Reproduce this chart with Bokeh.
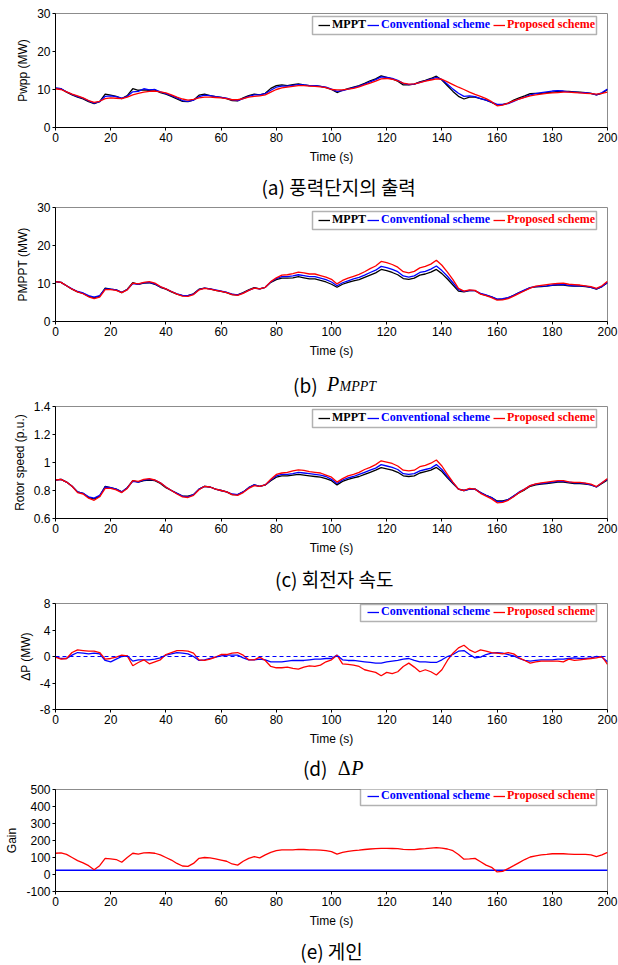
from bokeh.plotting import figure
from bokeh.layouts import column
from bokeh.models import (Range1d, FixedTicker, Legend, LegendItem, BoxAnnotation,
                          Span, Label, CustomJSTickFormatter)
from bokeh.embed import file_html
from bokeh.resources import INLINE

# ---------------- data ----------------
time_s = list(range(0, 201, 2))

pwpp_mppt = [10.3,10.2,9.3,8.6,8.0,7.5,6.8,6.3,6.8,8.8,
             8.5,8.2,7.6,8.4,10.2,9.8,9.9,9.8,9.9,9.2,
             8.8,8.2,7.5,6.9,6.8,7.2,8.5,8.8,8.4,8.1,
             7.9,7.6,7.1,7.0,7.8,8.4,8.8,8.6,9.0,10.3,
             11.0,11.2,11.0,11.3,11.5,11.2,11.0,11.0,10.8,10.5,
             10.0,9.2,9.8,10.2,10.6,11.0,11.6,12.3,12.8,13.6,
             13.2,12.8,12.2,11.2,11.2,11.4,12.0,12.4,12.9,13.5,
             12.5,11.0,9.5,8.2,7.5,8.0,8.0,7.6,7.2,6.6,
             5.9,6.0,6.4,7.2,7.8,8.3,8.9,9.0,9.0,9.2,
             9.3,9.5,9.5,9.5,9.4,9.3,9.2,9.0,8.6,9.0,
             10.0]
pwpp_conv = [10.4,10.2,9.4,8.7,8.1,7.7,7.0,6.4,6.8,8.2,
             8.3,8.1,7.7,8.2,9.4,9.5,10.2,9.9,10.0,9.4,
             8.9,8.4,7.8,7.1,6.9,7.2,8.1,8.5,8.4,8.1,
             7.9,7.7,7.3,7.1,7.6,8.2,8.6,8.6,8.9,9.8,
             10.6,10.9,10.9,11.1,11.3,11.2,11.0,11.0,10.8,10.6,
             10.1,9.5,9.7,10.1,10.5,10.9,11.4,12.0,12.6,13.3,
             13.2,12.9,12.4,11.6,11.3,11.4,11.9,12.3,12.7,13.2,
             12.6,11.4,10.1,9.0,8.2,8.3,8.1,7.6,7.2,6.7,
             6.1,6.1,6.3,6.9,7.5,8.0,8.6,8.9,9.2,9.4,
             9.6,9.7,9.6,9.4,9.3,9.2,9.2,9.0,8.6,9.2,
             10.1]
pwpp_prop = [10.2,10.0,9.4,8.8,8.3,7.8,7.1,6.6,6.9,7.6,
             7.8,7.7,7.6,8.0,8.6,9.0,9.3,9.5,9.6,9.4,
             9.1,8.6,8.0,7.5,7.2,7.4,7.8,8.0,8.0,7.9,
             7.8,7.6,7.3,7.3,7.6,8.0,8.2,8.3,8.6,9.3,
             10.0,10.4,10.6,10.8,11.0,11.0,10.9,10.8,10.7,10.5,
             10.0,9.9,9.9,10.1,10.3,10.7,11.2,11.7,12.2,12.8,
             12.9,12.7,12.3,11.7,11.4,11.5,11.8,12.2,12.5,12.8,
             12.7,12.0,11.3,10.6,10.0,9.3,8.7,8.2,7.6,6.8,
             5.7,5.9,6.4,7.0,7.5,7.9,8.3,8.6,8.8,9.0,
             9.1,9.2,9.3,9.3,9.2,9.1,9.0,8.9,8.8,9.0,
             9.3]

pmppt_mppt = [10.5,10.3,9.4,8.5,7.8,7.4,6.6,6.3,6.7,8.8,
              8.5,8.3,7.6,8.5,10.2,9.8,10.1,10.2,9.8,9.0,
              8.5,7.8,7.2,6.8,6.8,7.3,8.5,8.8,8.6,8.2,
              7.9,7.6,7.1,7.0,7.6,8.3,8.9,8.6,9.0,10.3,
              11.0,11.4,11.4,11.5,11.8,11.5,11.2,11.2,10.8,10.4,
              9.8,9.0,9.8,10.3,10.7,11.0,11.6,12.2,12.8,13.7,
              13.4,12.9,12.3,11.3,11.1,11.4,12.2,12.5,13.0,13.7,
              12.6,11.2,9.6,8.0,7.8,8.1,8.1,7.3,6.9,6.5,
              5.8,5.9,6.2,6.9,7.6,8.2,8.9,9.1,9.2,9.3,
              9.5,9.6,9.6,9.4,9.3,9.3,9.2,9.0,8.5,9.2,
              10.2]
pmppt_conv = [10.5,10.3,9.4,8.6,7.9,7.5,6.8,6.4,6.8,8.6,
              8.5,8.3,7.7,8.4,10.0,9.8,10.2,10.3,9.9,9.1,
              8.6,7.9,7.3,6.9,6.8,7.2,8.4,8.8,8.6,8.3,
              8.0,7.7,7.2,7.0,7.5,8.2,8.8,8.6,9.0,10.4,
              11.3,11.8,11.8,12.0,12.3,12.1,11.8,11.8,11.4,11.0,
              10.4,9.4,10.2,10.7,11.2,11.6,12.2,12.9,13.5,14.5,
              14.2,13.7,13.1,12.0,11.7,12.0,12.9,13.2,13.8,14.6,
              13.4,11.9,10.2,8.4,7.9,8.2,8.1,7.4,7.0,6.5,
              5.9,6.0,6.3,6.9,7.6,8.3,8.9,9.2,9.3,9.4,
              9.6,9.7,9.8,9.5,9.4,9.4,9.3,9.0,8.6,9.2,
              10.3]
pmppt_prop = [10.5,10.3,9.4,8.5,7.8,7.3,6.5,6.0,6.4,8.4,
              8.4,8.2,7.6,8.3,10.1,9.9,10.3,10.5,10.1,9.2,
              8.6,7.9,7.2,6.7,6.6,7.1,8.3,8.7,8.5,8.2,
              7.9,7.6,7.1,6.9,7.4,8.2,8.8,8.6,9.0,10.5,
              11.5,12.2,12.3,12.6,13.0,12.8,12.5,12.5,12.1,11.7,
              11.1,9.9,10.8,11.4,11.9,12.4,13.1,13.9,14.6,15.8,
              15.5,15.0,14.3,13.1,12.8,13.2,14.1,14.5,15.1,16.1,
              14.8,13.0,11.0,8.7,8.0,8.3,8.2,7.2,6.8,6.3,
              5.6,5.7,6.0,6.7,7.4,8.1,8.8,9.3,9.5,9.7,
              9.9,10.0,10.1,9.8,9.7,9.6,9.4,9.2,8.7,9.4,
              10.6]

speed_mppt = [0.875,0.88,0.86,0.83,0.79,0.78,0.75,0.74,0.76,0.83,
              0.82,0.81,0.79,0.82,0.87,0.86,0.87,0.875,0.87,0.85,
              0.82,0.80,0.78,0.76,0.76,0.77,0.81,0.83,0.825,0.81,
              0.80,0.79,0.77,0.77,0.79,0.82,0.84,0.83,0.84,0.87,
              0.895,0.905,0.905,0.91,0.915,0.91,0.905,0.90,0.895,0.885,
              0.87,0.84,0.865,0.88,0.89,0.90,0.915,0.93,0.945,0.963,
              0.955,0.945,0.93,0.905,0.90,0.905,0.925,0.935,0.945,0.965,
              0.935,0.89,0.85,0.81,0.80,0.81,0.81,0.785,0.765,0.75,
              0.725,0.725,0.735,0.76,0.785,0.805,0.83,0.84,0.845,0.85,
              0.855,0.86,0.86,0.855,0.85,0.85,0.845,0.84,0.825,0.85,
              0.875]
speed_conv = [0.875,0.88,0.86,0.83,0.79,0.78,0.755,0.745,0.765,0.825,
              0.82,0.81,0.79,0.82,0.865,0.86,0.875,0.88,0.875,0.855,
              0.825,0.80,0.78,0.76,0.755,0.77,0.81,0.83,0.825,0.81,
              0.80,0.79,0.775,0.77,0.79,0.82,0.84,0.83,0.84,0.875,
              0.905,0.915,0.915,0.92,0.93,0.925,0.92,0.915,0.91,0.90,
              0.88,0.85,0.875,0.89,0.90,0.915,0.93,0.945,0.96,0.985,
              0.975,0.965,0.95,0.92,0.915,0.92,0.94,0.95,0.96,0.985,
              0.95,0.90,0.855,0.81,0.80,0.81,0.81,0.785,0.765,0.75,
              0.72,0.72,0.735,0.76,0.79,0.81,0.835,0.845,0.85,0.855,
              0.86,0.865,0.865,0.86,0.855,0.855,0.85,0.84,0.825,0.855,
              0.88]
speed_prop = [0.875,0.88,0.86,0.83,0.785,0.775,0.745,0.73,0.755,0.815,
              0.815,0.805,0.785,0.815,0.87,0.865,0.88,0.885,0.875,0.855,
              0.825,0.80,0.775,0.755,0.75,0.765,0.805,0.83,0.825,0.81,
              0.80,0.79,0.77,0.765,0.785,0.815,0.835,0.83,0.84,0.88,
              0.915,0.925,0.93,0.94,0.948,0.943,0.935,0.93,0.925,0.91,
              0.895,0.86,0.885,0.905,0.915,0.93,0.95,0.965,0.985,1.012,
              1.003,0.993,0.975,0.945,0.94,0.945,0.97,0.98,0.995,1.018,
              0.975,0.915,0.86,0.81,0.80,0.815,0.81,0.78,0.76,0.74,
              0.712,0.715,0.73,0.755,0.785,0.81,0.835,0.848,0.855,0.86,
              0.865,0.87,0.87,0.862,0.858,0.858,0.852,0.845,0.828,0.855,
              0.885]

dp_conv = [0.0,-0.3,-0.3,0.2,0.6,0.5,0.4,0.5,0.4,-0.6,
           -0.8,-0.4,0.0,0.1,-0.7,-0.5,-0.5,-0.5,-0.4,-0.2,
           0.2,0.4,0.6,0.5,0.4,0.0,-0.6,-0.5,-0.3,-0.1,
           0.1,0.2,0.2,0.2,-0.2,-0.5,-0.5,-0.4,-0.5,-0.8,
           -0.8,-0.8,-0.7,-0.6,-0.6,-0.6,-0.5,-0.4,-0.4,-0.3,
           -0.3,0.2,-0.5,-0.6,-0.6,-0.7,-0.8,-0.9,-1.0,-1.0,
           -0.8,-0.7,-0.6,-0.4,-0.3,-0.6,-0.8,-0.8,-0.9,-0.9,
           -0.5,0.0,0.3,0.8,0.9,0.3,-0.2,-0.1,0.3,0.5,
           0.6,0.5,0.3,0.1,-0.3,-0.6,-0.7,-0.6,-0.5,-0.5,
           -0.5,-0.4,-0.4,-0.3,-0.2,-0.3,-0.3,-0.2,0.0,-0.1,
           -0.8]
dp_prop = [-0.1,-0.4,-0.3,0.6,1.0,0.9,0.8,0.8,0.6,-0.4,
           -0.3,-0.1,0.2,0.1,-1.4,-0.9,-0.5,-1.1,-0.8,-0.5,
           0.3,0.6,0.9,0.9,0.8,0.5,-0.5,-0.6,-0.4,-0.1,
           0.3,0.3,0.5,0.6,0.2,-0.5,-0.5,-0.1,-0.6,-1.5,
           -1.7,-1.7,-1.6,-1.8,-1.9,-1.6,-1.4,-1.5,-1.3,-0.8,
           -0.5,0.2,-1.1,-1.2,-1.3,-1.5,-2.0,-2.2,-2.4,-2.9,
           -2.4,-2.6,-2.3,-1.5,-1.0,-1.6,-2.3,-2.0,-2.3,-2.8,
           -2.0,-0.6,0.5,1.3,1.7,1.0,0.6,1.0,0.8,0.6,
           0.5,0.4,0.6,0.4,-0.2,-0.6,-1.0,-0.8,-0.7,-0.7,
           -0.7,-0.7,-0.8,-0.4,-0.6,-0.5,-0.4,-0.3,-0.2,0.0,
           -1.2]

gain_conv_time = [0, 200]
gain_conv = [25, 25]
gain_prop = [125,127,118,100,82,68,52,28,52,95,
             92,88,72,100,125,120,127,128,125,115,
             100,85,65,50,48,65,95,100,98,92,
             85,78,62,55,78,95,105,98,115,130,
             140,145,145,145,148,147,145,145,143,140,
             135,120,130,136,140,143,147,150,152,154,
             154,153,152,148,146,146,150,152,155,158,
             155,150,140,118,90,92,95,75,55,42,
             15,18,35,52,70,88,103,110,115,118,
             122,123,122,120,118,118,118,115,105,115,
             130]

x_ticks = [0, 20, 40, 60, 80, 100, 120, 140, 160, 180, 200]
series_names = ["MPPT", "Conventional scheme", "Proposed scheme"]
series_colors = ["black", "#0000ff", "#ff0000"]

# ---------------- helpers ----------------
W = 618
FL, FR = 55, 11


def make_panel(height, top, bottom, y_lo, y_hi, y_ticks, y_label):
    p = figure(width=W, height=height, x_range=Range1d(0, 200), y_range=Range1d(y_lo, y_hi),
               min_border_left=FL, min_border_right=FR, min_border_top=top,
               min_border_bottom=bottom, output_backend="svg", toolbar_location=None)
    p.grid.visible = False
    p.outline_line_color = "#8c8c8c"
    p.outline_line_width = 1
    p.background_fill_color = "white"
    p.border_fill_color = "white"
    xa, ya = p.xaxis[0], p.yaxis[0]
    xa.ticker = FixedTicker(ticks=x_ticks)
    ya.ticker = FixedTicker(ticks=y_ticks)
    ya.formatter = CustomJSTickFormatter(code="return String(tick);")
    xa.axis_label = "Time (s)"
    ya.axis_label = y_label
    for ax in (xa, ya):
        ax.axis_line_color = "black"
        ax.major_tick_line_color = "black"
        ax.major_tick_in = 0
        ax.major_tick_out = 3
        ax.minor_tick_line_color = None
        ax.major_label_text_font = "Liberation Sans"
        ax.major_label_text_font_size = "12px"
        ax.major_label_text_color = "black"
        ax.major_label_standoff = 2
        ax.axis_label_text_font = "Liberation Sans"
        ax.axis_label_text_font_size = "12px"
        ax.axis_label_text_font_style = "normal"
        ax.axis_label_text_color = "black"
    xa.axis_label_standoff = 5
    ya.axis_label_standoff = 4
    return p


def add_legend(p, renderers, names, colors, xs, y, box):
    left, right, bottom, top = box
    p.add_layout(BoxAnnotation(left=left, right=right, bottom=bottom, top=top,
                               left_units="screen", right_units="screen",
                               bottom_units="screen", top_units="screen",
                               fill_color="white", fill_alpha=1.0,
                               line_color="black", line_width=1.5))
    for r, name, col, x in zip(renderers, names, colors, xs):
        leg = Legend(items=[LegendItem(label=name, renderers=[r])], location=(x, y),
                     orientation="horizontal", border_line_color=None,
                     background_fill_alpha=0, padding=0, margin=0, spacing=0,
                     glyph_width=12, glyph_height=12, label_height=12, label_standoff=2,
                     label_text_font="Liberation Serif", label_text_font_style="bold",
                     label_text_font_size="12px", label_text_color=col)
        p.add_layout(leg)


def make_caption(height, parts):
    c = figure(width=W, height=height, x_range=Range1d(0, W), y_range=Range1d(0, height),
               x_axis_type=None, y_axis_type=None, min_border=0, outline_line_color=None,
               output_backend="svg", toolbar_location=None)
    c.grid.visible = False
    for text, x, y, font, size, style, align in parts:
        c.add_layout(Label(x=x, y=y, text=text, text_font=font, text_font_size=size,
                           text_font_style=style, text_align=align,
                           text_baseline="middle", text_color="black"))
    return c


KR = "Noto Sans CJK KR"
SERIF = "Liberation Serif"

# ---------------- (a) ----------------
pa = make_panel(168, 13, 41, 0, 30, [0, 10, 20, 30], "Pwpp (MW)")
ra = [pa.line(time_s, s, line_color=c, line_width=1.3)
      for s, c in zip([pwpp_mppt, pwpp_conv, pwpp_prop], series_colors)]
add_legend(pa, ra, series_names, series_colors, [263, 312, 438], 95, (257, 541, 93, 111))
ca = make_caption(32, [("(a) 풍력단지의 출력", 317, 14, KR, "19px", "normal", "center")])

# ---------------- (b) ----------------
pb = make_panel(160, 7, 38, 0, 30, [0, 10, 20, 30], "PMPPT (MW)")
rb = [pb.line(time_s, s, line_color=c, line_width=1.3)
      for s, c in zip([pmppt_mppt, pmppt_conv, pmppt_prop], series_colors)]
add_legend(pb, rb, series_names, series_colors, [263, 312, 438], 94, (257, 541, 92, 110))
cb = make_caption(39, [("(b)", 266, 15, KR, "19px", "normal", "left"),
                       ("P", 304, 15.5, SERIF, "20px", "italic", "left"),
                       ("MPPT", 318, 13, SERIF, "14px", "italic", "left")])

# ---------------- (c) ----------------
pc = make_panel(158, 7, 39, 0.6, 1.4, [0.6, 0.8, 1.0, 1.2, 1.4], "Rotor speed (p.u.)")
rc = [pc.line(time_s, s, line_color=c, line_width=1.3)
      for s, c in zip([speed_mppt, speed_conv, speed_prop], series_colors)]
add_legend(pc, rc, series_names, series_colors, [263, 312, 438], 93, (257, 541, 91, 109))
cc = make_caption(39, [("(c) 회전자 속도", 312, 18, KR, "19px", "normal", "center")])

# ---------------- (d) ----------------
pd_ = make_panel(152, 7, 38, -8, 8, [-8, -4, 0, 4, 8], "ΔP (MW)")
pd_.add_layout(Span(location=0, dimension="width", line_color="#0000ff",
                    line_dash="4 3", line_width=1))
rd = [pd_.line(time_s, s, line_color=c, line_width=1.3)
      for s, c in zip([dp_conv, dp_prop], series_colors[1:])]
add_legend(pd_, rd, series_names[1:], series_colors[1:], [312, 438], 90, (305, 541, 88, 105))
cd = make_caption(34, [("(d)", 277, 15, KR, "19px", "normal", "left"),
                       ("Δ", 316, 15, SERIF, "20px", "normal", "left"),
                       ("P", 331, 15, SERIF, "20px", "italic", "left")])

# ---------------- (e) ----------------
pe = make_panel(148, 7, 36, -100, 500, [-100, 0, 100, 200, 300, 400, 500], "Gain")
re1 = pe.line(gain_conv_time, gain_conv, line_color=series_colors[1], line_width=1.3)
re2 = pe.line(time_s, gain_prop, line_color=series_colors[2], line_width=1.3)
add_legend(pe, [re1, re2], series_names[1:], series_colors[1:], [312, 438], 88, (305, 541, 86, 103))
ce = make_caption(35, [("(e) 게인", 309, 15, KR, "19px", "normal", "center")])

layout = column(pa, ca, pb, cb, pc, cc, pd_, cd, pe, ce, spacing=0)
open("out.html", "w").write(file_html(layout, INLINE))
